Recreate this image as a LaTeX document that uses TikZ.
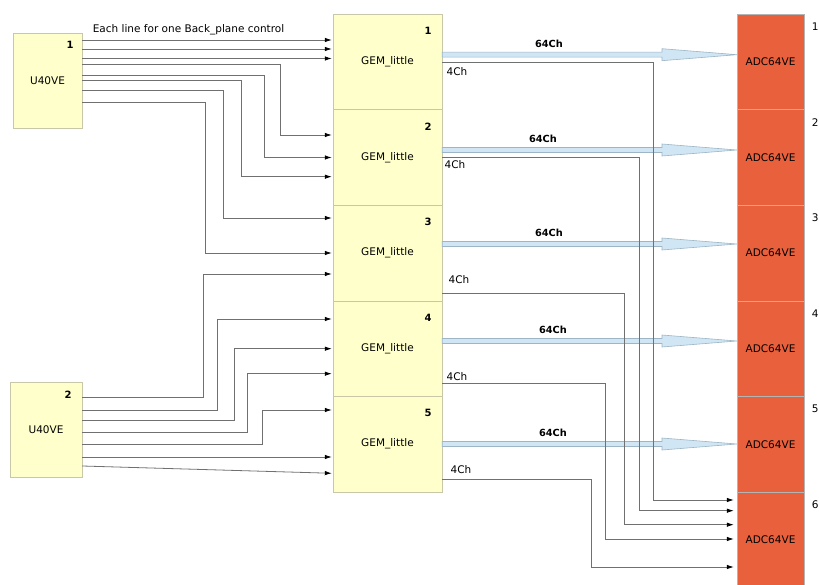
\documentclass[tikz,border=0pt]{standalone}
\usepackage{fontspec}
\setmainfont{DejaVu Sans}
\usetikzlibrary{arrows.meta}
\definecolor{gemfill}{HTML}{FFFFCC}
\definecolor{gemline}{HTML}{C8C8A8}
\definecolor{adcfill}{HTML}{E8603C}
\definecolor{adcline}{HTML}{B4B4B4}
\definecolor{fatfill}{HTML}{D0E6F4}
\definecolor{fatline}{HTML}{9DB5C4}
\definecolor{wiregray}{HTML}{707070}
\tikzset{
  ubox/.style={draw=gemline,fill=gemfill,minimum height=95pt,inner sep=0pt},
  gem/.style={draw=gemline,fill=gemfill,minimum width=109pt,minimum height=95.6pt,inner sep=0pt},
  adc/.style={draw=adcline,fill=adcfill,minimum width=67pt,minimum height=95.6pt,inner sep=0pt},
  num/.style={font=\fontsize{10}{12}\selectfont\bfseries,inner sep=0pt},
  wire/.style={draw=wiregray,line width=0.8pt,-{Latex[length=7pt,width=4.5pt,color=black]},shorten >=1pt},
  fat/.style={fill=fatfill,draw=fatline,line width=0.6pt},
  chan/.style={font=\fontsize{9.8}{12}\selectfont\bfseries,inner sep=0pt}
}
\begin{document}
\begin{tikzpicture}[x=1pt,y=-1pt,font=\fontsize{10.5}{12}\selectfont]
  \useasboundingbox (0,0) rectangle (819,585);
  \node[ubox,minimum width=69pt] (u1) at (47.5,80.5) {U40VE}; %first U40VE
  \node[ubox,minimum width=72pt] (u2) at (46,429.5) {U40VE}; %second U40VE
  \node[num] (un1) at ([shift={(-12,12)}]u1.north east) {1};
  \node[num] (un2) at ([shift={(-14,13)}]u2.north east) {2};
  \foreach \i in {1,...,5}{
    \node[gem] (g\i) at (387.5,{14+95.6*(\i-0.5)}) {GEM\_little}; %GEM boxes
    \node[num] (gn\i) at ([shift={(-14,17)}]g\i.north east) {\i};
  }
  \foreach \i in {1,...,6}{
    \node[adc] (a\i) at (770.5,{14+95.6*(\i-0.5)}) {ADC64VE}; %ADC boxes
    \node[inner sep=0pt] (an\i) at ([shift={(11,13)}]a\i.north east) {\i};
  }
  \node (note) at (188.5,30) {Each line for one Back\_plane control};
  % control lines from U40VE 1
  \foreach \sy in {40,49,58.5}
    \draw[wire] (u1.east |- 0,\sy) -- (g1.west |- 0,\sy);
  \foreach \sy/\bx/\ty/\g in {64.5/280/135/2,75/264/157.5/2,80.5/241/176.7/2,90.5/223/218/3,102/205/253/3}
    \draw[wire] (u1.east |- 0,\sy) -| (\bx,\ty) -- (g\g.west |- 0,\ty);
  % control lines from U40VE 2
  \foreach \sy/\bx/\ty/\g in {397/203/274/3,410/217/319/4,420.7/234/348.7/4,432/247/373.7/4,444.7/262/410/5}
    \draw[wire] (u2.east |- 0,\sy) -| (\bx,\ty) -- (g\g.west |- 0,\ty);
  \draw[wire] (u2.east |- 0,457) -- (g5.west |- 0,457);
  \draw[wire] (u2.east |- 0,466) -- (g5.west |- 0,473.3);
  % 64Ch arrows
  \foreach \i/\y/\lx in {1/54.7/549,2/150/543,3/244/549,4/341/553,5/444/553}{
    \filldraw[fat] (g\i.east |- 0,\y-2.5) -- (662,\y-2.5) -- (662,\y-6) -- (a\i.west |- 0,\y)
      -- (662,\y+6) -- (662,\y+2.5) -- (g\i.east |- 0,\y+2.5) -- cycle;
    \node[chan] (c\i) at (\lx,\y-11) {64Ch};
  }
  % 4Ch lines to ADC 6
  \foreach \i/\y/\bx/\ty/\lx/\ly in {1/62/653/500/457/72,2/157.7/639/510.7/455/165,3/293/624/524.7/459/280,4/383/605/539/457/377,5/479/591/567/461/470}{
    \draw[wire,shorten >=3pt] (g\i.east |- 0,\y) -| (\bx,\ty) -- (a6.west |- 0,\ty);
    \node[inner sep=0pt] (f\i) at (\lx,\ly) {4Ch};
  }
\end{tikzpicture}
\end{document}
